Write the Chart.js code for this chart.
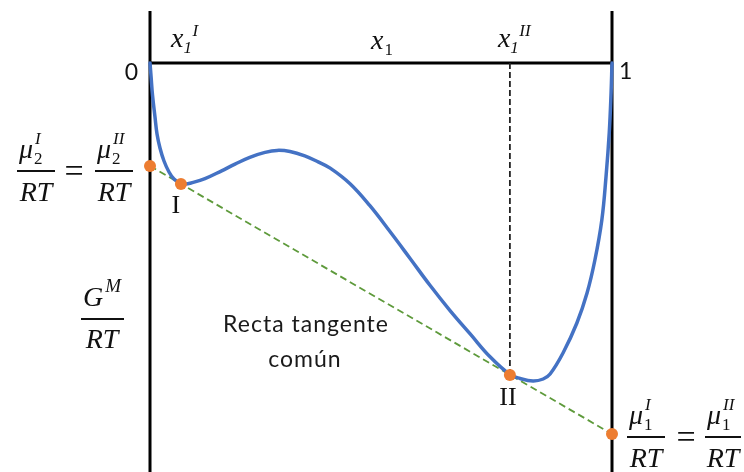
<!DOCTYPE html>
<html>
<head>
<meta charset="utf-8">
<script src="https://cdn.jsdelivr.net/npm/chart.js@4.4.0/dist/chart.umd.min.js"></script>
<style>
  html, body { margin: 0; padding: 0; background: #ffffff; }
  canvas { display: block; }
</style>
</head>
<body>
<canvas id="chart" width="744" height="472"></canvas>
<script>
// Mole fraction x1 and dimensionless Gibbs energy of mixing G^M/RT
const moleFraction = [0, 0.0022, 0.0054, 0.0108, 0.0152, 0.0216, 0.0303, 0.0411, 0.0519, 0.0649,
  0.0779, 0.0887, 0.119, 0.154, 0.184, 0.216, 0.249, 0.275, 0.303, 0.335, 0.364, 0.390, 0.433,
  0.476, 0.519, 0.563, 0.606, 0.649, 0.693, 0.736, 0.779, 0.801, 0.829, 0.851, 0.866, 0.894, 0.924,
  0.946, 0.963, 0.978, 0.987, 0.994, 0.998, 1];
const gibbsMixing = [0, -0.13, -0.32, -0.54, -0.71, -0.85, -0.98, -1.09, -1.16, -1.20,
  -1.21, -1.20, -1.156, -1.081, -1.011, -0.943, -0.894, -0.874, -0.885, -0.929, -0.989, -1.051, -1.207,
  -1.427, -1.683, -1.955, -2.223, -2.473, -2.709, -2.938, -3.115, -3.155, -3.18, -3.16, -3.11, -2.90,
  -2.60, -2.30, -1.97, -1.57, -1.14, -0.70, -0.30, 0];

// Common tangent line and its intercepts at x1 = 0 and x1 = 1
const tangentX = [0, 1];
const tangentY = [-1.03, -3.71];

// Coexisting phases I and II (tangent points)
const phaseX = [0.067, 0.779];
const phaseY = [-1.21, -3.12];

// Axis frame
const axisTop = 0.52;
const axisBottom = -4.09;
const yMin = -4.09;
const yMax = 0.63;

const toPts = (xs, ys) => xs.map((x, i) => ({ x: x, y: ys[i] }));

const BLACK = '#000000';
const BLUE = '#4472C4';
const ORANGE = '#ED7D31';
const GREEN = '#5E9A3B';

const SERIF_I = 'italic 28px "Liberation Serif", "DejaVu Serif", serif';
const SERIF_SMALL = '17px "Liberation Serif", "DejaVu Serif", serif';
const SERIF_SMALL_I = 'italic 17px "Liberation Serif", "DejaVu Serif", serif';
const SANS = 'Lato, "Open Sans", "Liberation Sans", sans-serif';
const EQUALS = '34px "Liberation Serif", serif';

function put(ctx, s, x, y, font, align) {
  ctx.font = font;
  ctx.textAlign = align || 'left';
  ctx.textBaseline = 'alphabetic';
  ctx.fillText(s, x, y);
  return ctx.measureText(s).width;
}

// μ with a subscript and a superscript, over RT
function muFraction(ctx, left, barY, barW, sub, sup) {
  const w = put(ctx, 'μ', left + 2, barY - 13, SERIF_I);
  put(ctx, sub, left + 2 + w + 1, barY - 7, SERIF_SMALL);
  put(ctx, sup, left + 2 + w + 2, barY - 27, SERIF_SMALL_I);
  ctx.fillRect(left, barY - 1, barW, 2);
  put(ctx, 'RT', left + barW / 2, barY + 30, SERIF_I, 'center');
}

const textPlugin = {
  id: 'labels',
  afterDatasetsDraw(chart) {
    const ctx = chart.ctx;
    const sx = chart.scales.x;
    const sy = chart.scales.y;
    const x0 = sx.getPixelForValue(0);
    const x1 = sx.getPixelForValue(1);
    const yTop = sy.getPixelForValue(0);
    ctx.save();
    ctx.fillStyle = '#111111';

    // 0 and 1 at the ends of the composition axis
    put(ctx, '0', x0 - 12, yTop + 17, '23px ' + SANS, 'right');
    put(ctx, '1', x1 + 7, yTop + 16, '23px ' + SANS, 'left');

    // x1^I, x1, x1^II above the axis
    const xI = sx.getPixelForValue(phaseX[0]);
    const xII = sx.getPixelForValue(phaseX[1]);
    let w = put(ctx, 'x', xI - 10, yTop - 16, SERIF_I);
    put(ctx, '1', xI - 10 + w, yTop - 10, SERIF_SMALL_I);
    put(ctx, 'I', xI - 10 + w + 9, yTop - 27, SERIF_SMALL_I);

    const xMid = sx.getPixelForValue(0.5);
    w = put(ctx, 'x', xMid - 10, yTop - 14, SERIF_I);
    put(ctx, '1', xMid - 10 + w + 1, yTop - 8, SERIF_SMALL);

    w = put(ctx, 'x', xII - 12, yTop - 16, SERIF_I);
    put(ctx, '1', xII - 12 + w, yTop - 10, SERIF_SMALL_I);
    put(ctx, 'II', xII - 12 + w + 9, yTop - 27, SERIF_SMALL_I);

    // chemical potential of component 2 (intercept at x1 = 0)
    const yL = sy.getPixelForValue(tangentY[0]);
    muFraction(ctx, 17, yL + 5, 38, '2', 'I');
    put(ctx, '=', 74, yL + 16, EQUALS, 'center');
    muFraction(ctx, 95, yL + 5, 38, '2', 'II');

    // G^M / RT
    const yG = sy.getPixelForValue(-2.56);
    w = put(ctx, 'G', 83, yG - 13, SERIF_I);
    put(ctx, 'M', 83 + w + 2, yG - 27, 'italic 19px "Liberation Serif", serif');
    ctx.fillRect(81, yG - 1, 43, 2);
    put(ctx, 'RT', 102, yG + 29, SERIF_I, 'center');

    // chemical potential of component 1 (intercept at x1 = 1)
    const yR = sy.getPixelForValue(tangentY[1]);
    muFraction(ctx, x1 + 15, yR + 3, 38, '1', 'I');
    put(ctx, '=', x1 + 74, yR + 14, EQUALS, 'center');
    muFraction(ctx, x1 + 93, yR + 3, 36, '1', 'II');

    // phase labels
    const pI = sy.getPixelForValue(phaseY[0]);
    const pII = sy.getPixelForValue(phaseY[1]);
    put(ctx, 'I', xI - 5, pI + 29, '26px "Liberation Serif", serif', 'center');
    put(ctx, 'II', xII - 2, pII + 30, '26px "Liberation Serif", serif', 'center');

    // tangent line caption
    ctx.fillStyle = '#1a1a1a';
    ctx.letterSpacing = '1px';
    put(ctx, 'Recta tangente', 306, 332, '23px ' + SANS, 'center');
    put(ctx, 'común', 305, 367, '23px ' + SANS, 'center');
    ctx.letterSpacing = '0px';
    ctx.restore();
  }
};

new Chart(document.getElementById('chart'), {
  type: 'scatter',
  data: {
    datasets: [
      {
        label: 'Fases I y II',
        data: toPts(phaseX, phaseY),
        backgroundColor: ORANGE,
        borderColor: ORANGE,
        pointRadius: 6,
        pointBorderWidth: 0,
        order: 0,
        clip: false
      },
      {
        label: 'Potenciales químicos',
        data: toPts(tangentX, tangentY),
        backgroundColor: ORANGE,
        borderColor: ORANGE,
        pointRadius: 6,
        pointBorderWidth: 0,
        order: 1,
        clip: false
      },
      {
        label: 'G^M/RT',
        data: toPts(moleFraction, gibbsMixing),
        showLine: true,
        borderColor: BLUE,
        borderWidth: 3.5,
        pointRadius: 0,
        tension: 0.4,
        borderCapStyle: 'round',
        borderJoinStyle: 'round',
        order: 2,
        clip: false
      },
      {
        label: 'Recta tangente común',
        data: toPts(tangentX, tangentY),
        showLine: true,
        borderColor: GREEN,
        borderWidth: 1.8,
        borderDash: [7, 4],
        pointRadius: 0,
        order: 3,
        clip: false
      },
      {
        label: 'x1 II',
        data: [{ x: phaseX[1], y: 0 }, { x: phaseX[1], y: phaseY[1] }],
        showLine: true,
        borderColor: '#222222',
        borderWidth: 1.8,
        borderDash: [6, 3],
        pointRadius: 0,
        order: 4,
        clip: false
      },
      {
        label: 'eje x1',
        data: [{ x: 0, y: 0 }, { x: 1, y: 0 }],
        showLine: true,
        borderColor: BLACK,
        borderWidth: 3,
        pointRadius: 0,
        order: 5,
        clip: false
      },
      {
        label: 'x1 = 0',
        data: [{ x: 0, y: axisTop }, { x: 0, y: axisBottom }],
        showLine: true,
        borderColor: BLACK,
        borderWidth: 3,
        pointRadius: 0,
        order: 5,
        clip: false
      },
      {
        label: 'x1 = 1',
        data: [{ x: 1, y: axisTop }, { x: 1, y: axisBottom }],
        showLine: true,
        borderColor: BLACK,
        borderWidth: 3,
        pointRadius: 0,
        order: 5,
        clip: false
      }
    ]
  },
  options: {
    responsive: false,
    animation: false,
    events: [],
    layout: { autoPadding: false, padding: { left: 150, right: 132, top: 0, bottom: 0 } },
    plugins: { legend: { display: false }, tooltip: { enabled: false } },
    scales: {
      x: { type: 'linear', min: 0, max: 1, display: false },
      y: { type: 'linear', min: yMin, max: yMax, display: false }
    }
  },
  plugins: [textPlugin]
});
</script>
</body>
</html>
